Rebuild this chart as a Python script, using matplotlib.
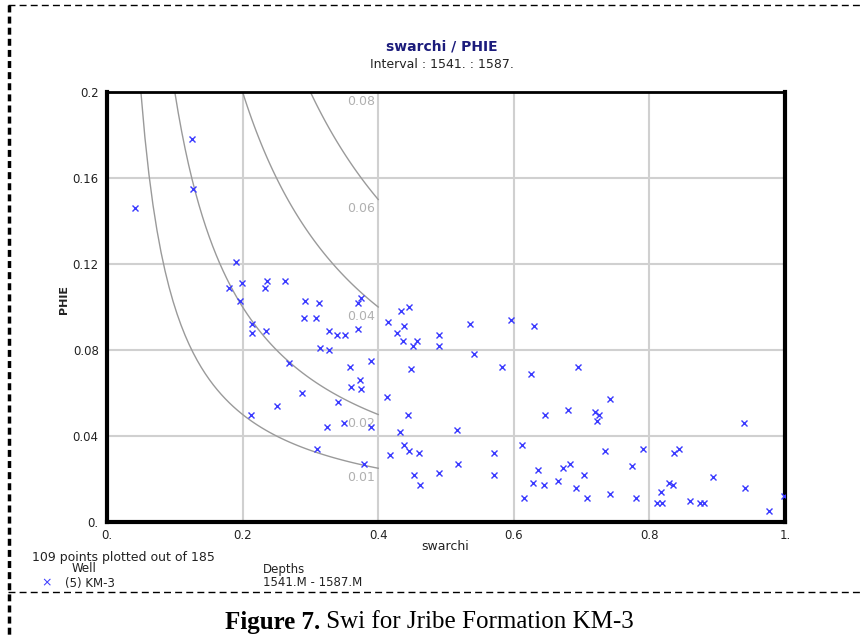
import numpy as np
import matplotlib
matplotlib.use("Agg")
from matplotlib import pyplot as plt
from matplotlib.lines import Line2D

# swarchi / PHIE points
swarchi = [0.041, 0.126, 0.127,
           0.191, 0.180, 0.199, 0.196, 0.236, 0.233, 0.263, 0.292, 0.312, 0.290,
           0.308, 0.214, 0.214, 0.235, 0.328, 0.339, 0.351, 0.370, 0.370, 0.375,
           0.414, 0.314, 0.327, 0.268, 0.358, 0.389, 0.373, 0.360, 0.375, 0.288,
           0.413, 0.340, 0.251, 0.213, 0.350, 0.389, 0.324, 0.309,
           0.379, 0.418,
           0.445, 0.433, 0.438, 0.428, 0.436, 0.457, 0.451, 0.489, 0.490, 0.535,
           0.596, 0.630, 0.541, 0.448, 0.582, 0.626, 0.694, 0.742, 0.444, 0.646,
           0.680, 0.720, 0.725, 0.722, 0.939, 0.432, 0.516, 0.438, 0.612, 0.791,
           0.843,
           0.446, 0.460, 0.571, 0.734, 0.837, 0.453, 0.461, 0.490, 0.518, 0.571,
           0.615, 0.628, 0.635, 0.644, 0.665, 0.672, 0.683, 0.692, 0.704, 0.708,
           0.742, 0.774, 0.780, 0.817, 0.811, 0.818, 0.829, 0.835, 0.860, 0.875,
           0.881, 0.894, 0.941, 0.977, 0.998]
phie = [0.146, 0.178, 0.155,
        0.121, 0.109, 0.111, 0.103, 0.112, 0.109, 0.112, 0.103, 0.102, 0.095,
        0.095, 0.092, 0.088, 0.089, 0.089, 0.087, 0.087, 0.090, 0.102, 0.104,
        0.093, 0.081, 0.080, 0.074, 0.072, 0.075, 0.066, 0.063, 0.062, 0.060,
        0.058, 0.056, 0.054, 0.050, 0.046, 0.044, 0.044, 0.034,
        0.027, 0.031,
        0.100, 0.098, 0.091, 0.088, 0.084, 0.084, 0.082, 0.087, 0.082, 0.092,
        0.094, 0.091, 0.078, 0.071, 0.072, 0.069, 0.072, 0.057, 0.050, 0.050,
        0.052, 0.051, 0.050, 0.047, 0.046, 0.042, 0.043, 0.036, 0.036, 0.034,
        0.034,
        0.033, 0.032, 0.032, 0.033, 0.032, 0.022, 0.017, 0.023, 0.027, 0.022,
        0.011, 0.018, 0.024, 0.017, 0.019, 0.025, 0.027, 0.016, 0.022, 0.011,
        0.013, 0.026, 0.011, 0.014, 0.009, 0.009, 0.018, 0.017, 0.010, 0.009,
        0.009, 0.021, 0.016, 0.005, 0.012]

# bulk volume water lines
bvw = [0.01, 0.02, 0.04, 0.06, 0.08]
bvw_labels = ['0.01', '0.02', '0.04', '0.06', '0.08']

x_ticks = [0, 0.2, 0.4, 0.6, 0.8, 1.0]
x_ticklabels = ['0.', '0.2', '0.4', '0.6', '0.8', '1.']
y_ticks = [0, 0.04, 0.08, 0.12, 0.16, 0.2]
y_ticklabels = ['0.', '0.04', '0.08', '0.12', '0.16', '0.2']

W, H = 864, 638
fig = plt.figure(figsize=(W / 100, H / 100), dpi=100)


def fx(px):
    return px / W


def fy(py):
    return 1 - py / H


ax = fig.add_axes([fx(107), fy(522), 678 / W, 430 / H])

for c in bvw:
    xs = np.linspace(c / 0.2, 0.4, 60)
    ax.plot(xs, c / xs, color='#9a9a9a', lw=1, zorder=2)
for c, lab in zip(bvw, bvw_labels):
    ax.annotate(lab, (0.396, c / 0.4), xytext=(0, -2), textcoords='offset points',
                ha='right', va='top', fontsize=9, color='#b0b0b0')

ax.plot(swarchi, phie, ls='none', marker='x', ms=4, mew=1,
        color='#3a3aff', zorder=3)

ax.set_xlim(0, 1)
ax.set_ylim(0, 0.2)
ax.set_xticks(x_ticks)
ax.set_xticklabels(x_ticklabels)
ax.set_yticks(y_ticks)
ax.set_yticklabels(y_ticklabels)
ax.tick_params(length=0, labelsize=8.5, labelcolor='#222222')
ax.tick_params(axis='y', pad=6)
ax.tick_params(axis='x', pad=5)
ax.grid(True, color='#d0d0d0', lw=1.5, zorder=1)
ax.set_axisbelow(True)
for side in ['left', 'bottom', 'right']:
    ax.spines[side].set_linewidth(3)
ax.spines['top'].set_linewidth(2)

# titles and axis names
fig.text(fx(442), fy(46), 'swarchi / PHIE', ha='center', va='center',
         fontsize=10, weight='bold', color='#1c1c7c')
fig.text(fx(442), fy(65), 'Interval : 1541. : 1587.', ha='center', va='center',
         fontsize=9, color='#222222')
fig.text(fx(64), fy(300), 'PHIE', ha='center', va='center', rotation=90,
         fontsize=8, weight='bold', color='#222222')
fig.text(fx(445), fy(546), 'swarchi', ha='center', va='center',
         fontsize=9, color='#222222')

# legend block under the plot
fig.text(fx(32), fy(557), '109 points plotted out of 185', va='center',
         fontsize=9, color='#222222')
fig.text(fx(72), fy(569), 'Well', va='center', fontsize=8.5, color='#222222')
fig.text(fx(263), fy(569), 'Depths', va='center', fontsize=8.5, color='#222222')
fig.text(fx(47), fy(583), '\u00d7', ha='center', va='center', fontsize=9,
         color='#3a3aff')
fig.text(fx(65), fy(583), '(5) KM-3', va='center', fontsize=8.5, color='#222222')
fig.text(fx(263), fy(583), '1541.M - 1587.M', va='center', fontsize=8.5,
         color='#222222')

# dashed frame
fig.add_artist(Line2D([fx(8), fx(864)], [fy(5), fy(5)], color='black', lw=1,
                      dashes=(5, 3)))
fig.add_artist(Line2D([fx(8), fx(864)], [fy(592), fy(592)], color='black', lw=1,
                      dashes=(5, 3)))
fig.add_artist(Line2D([fx(9), fx(9)], [fy(5), fy(638)], color='black', lw=2.5,
                      dashes=(2, 1.2)))

# caption
fig.text(fx(320), fy(622), 'Figure 7.', ha='right', va='center', fontsize=18,
         weight='bold', family='Liberation Serif')
fig.text(fx(320), fy(622), ' Swi for Jribe Formation KM-3', ha='left',
         va='center', fontsize=18, family='Liberation Serif')

fig.savefig('out.png', dpi=100)
